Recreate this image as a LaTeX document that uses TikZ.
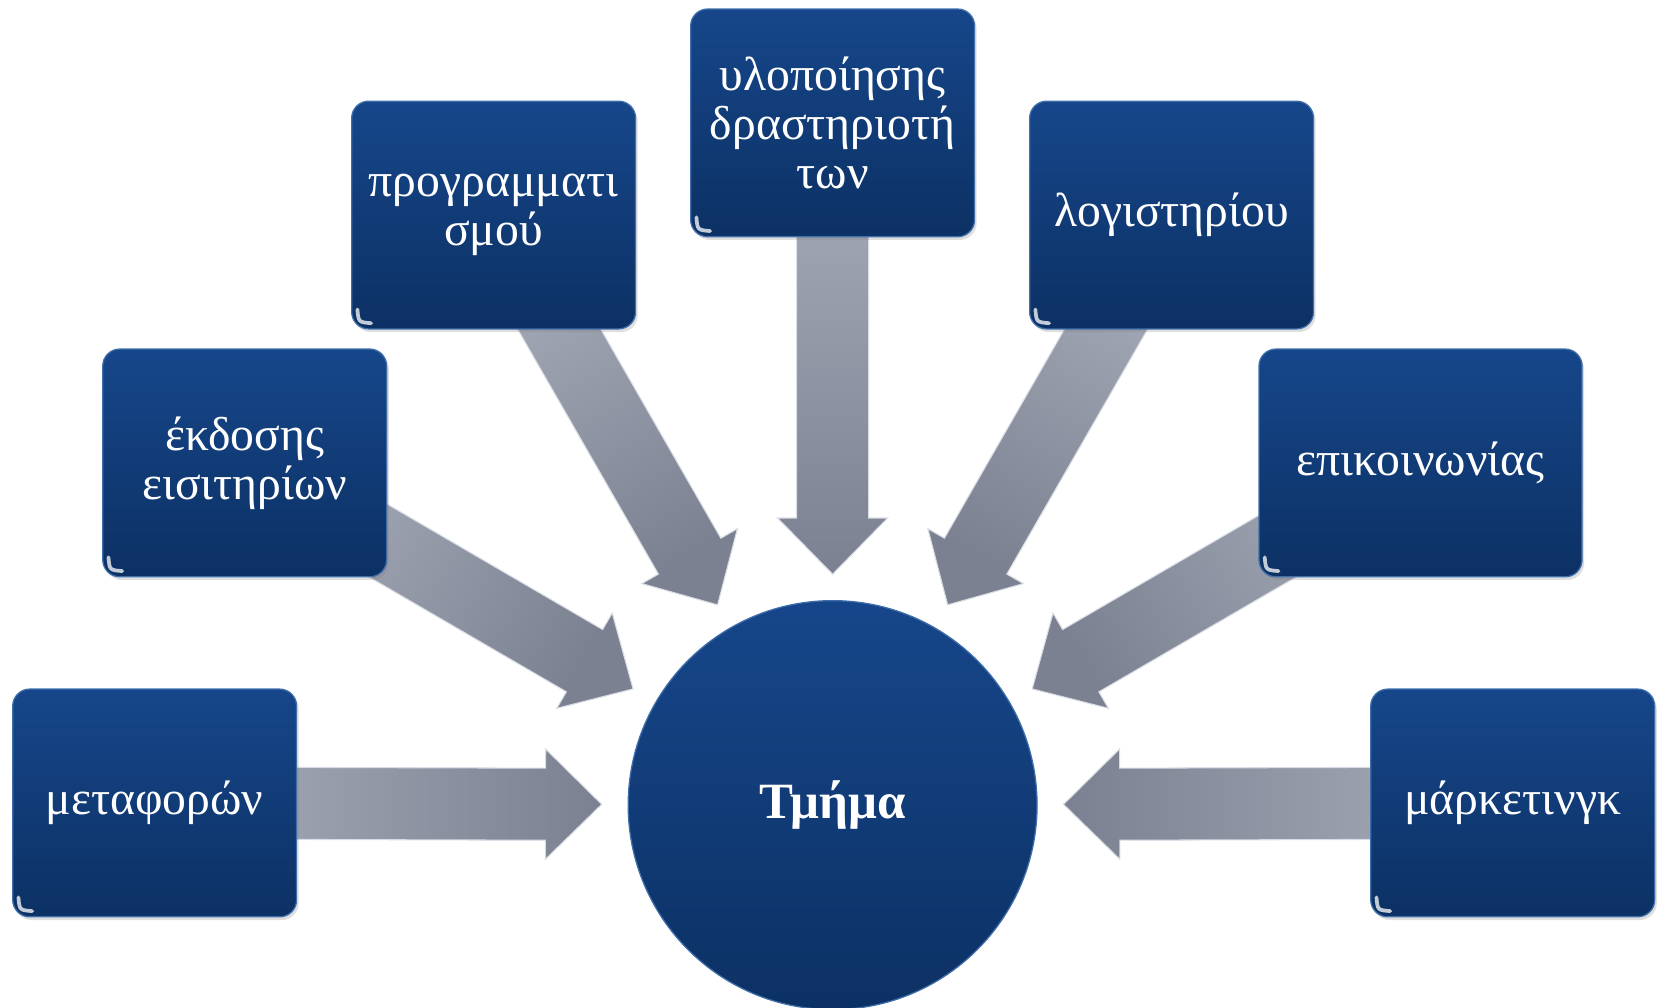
\documentclass[tikz,border=0pt]{standalone}
\usepackage{fontspec}
\setmainfont{Liberation Serif}
\usetikzlibrary{calc,shadows,backgrounds}
\definecolor{boxtop}{HTML}{16468A}
\definecolor{boxbot}{HTML}{0C3164}
\definecolor{arrlight}{HTML}{A9AEBC}
\definecolor{arrdark}{HTML}{7B8190}
\definecolor{arredge}{HTML}{D8DCE4}
\definecolor{boxedge}{HTML}{3F6EAB}
\newcommand\convarrow[3]{%
  \coordinate (T) at ($(#2.center)!218pt!(#1.center)$);
  \coordinate (H) at ($(T)!53pt!(#1.center)$);
  \coordinate (S) at (#1.center);
  \path[blockarrow, shading angle=#3]
    ($(S)!34pt!90:(T)$) -- ($(H)!34pt!-90:(S)$) -- ($(H)!52pt!-90:(S)$) -- (T)
    -- ($(H)!52pt!90:(S)$) -- ($(H)!34pt!90:(S)$) -- ($(S)!34pt!-90:(T)$) -- cycle;
}
\begin{document}
\begin{tikzpicture}[x=1pt,y=-1pt,
  box/.style={rounded corners=16pt, minimum width=268pt, minimum height=215pt, inner sep=0pt,
    top color=boxtop, bottom color=boxbot, draw=boxedge, line width=1.2pt, text=white,
    font=\fontsize{45}{46}\selectfont, align=center,
    drop shadow={opacity=0.25,shadow xshift=2pt,shadow yshift=-3pt}},
  hub/.style={circle, minimum size=386pt, inner sep=0pt, top color=boxtop, bottom color=boxbot,
    draw=boxedge, line width=1.2pt, text=white, font=\fontsize{48}{50}\selectfont\bfseries},
  blockarrow/.style={top color=arrlight, bottom color=arrdark, draw=arredge, line width=1pt, line join=miter},
  gloss/.style={white, opacity=0.75, line width=3.5pt, line cap=round}
]
\useasboundingbox (0,0) rectangle (1568,951);

\node[hub] (c) at (786,760) {Τμήμα};
\node[box] (b1) at (146,758) {μεταφορών};
\node[box] (b2) at (231,437) {έκδοσης\\εισιτηρίων};
\node[box] (b3) at (466,203) {προγραμματι\\σμού};
\node[box] (b4) at (786,116) {υλοποίησης\\δραστηριοτή\\των};
\node[box] (b5) at (1106,203) {λογιστηρίου};
\node[box, minimum width=305pt] (b6) at (1341,437) {επικοινωνίας};
\node[box] (b7) at (1428,758) {μάρκετινγκ};

\foreach \bx in {b1,b2,b3,b4,b5,b6,b7}
  \draw[gloss] ([xshift=6pt,yshift=19pt]\bx.south west) .. controls ([xshift=7pt,yshift=7pt]\bx.south west) .. ([xshift=19pt,yshift=6pt]\bx.south west);

\begin{scope}[on background layer]
\convarrow{b1}{c}{90}
\convarrow{b2}{c}{59.8}
\convarrow{b3}{c}{29.9}
\convarrow{b4}{c}{0}
\convarrow{b5}{c}{-29.9}
\convarrow{b6}{c}{-59.8}
\convarrow{b7}{c}{-90}
\end{scope}
\end{tikzpicture}
\end{document}
